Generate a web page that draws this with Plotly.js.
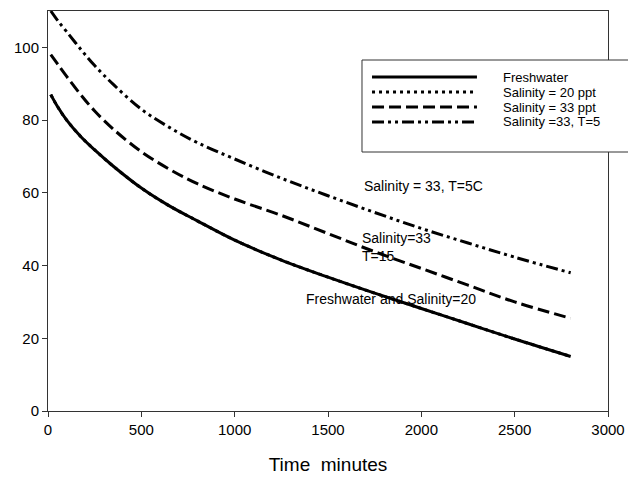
<!DOCTYPE html>
<html>
<head>
<meta charset="utf-8">
<script src="https://cdn.plot.ly/plotly-3.0.1.min.js"></script>
<style>html,body{margin:0;padding:0;background:#fff;}#chart{width:628px;height:479px;}</style>
</head>
<body>
<div id="chart"></div>
<script>
// Time (minutes)
const time = [15, 50, 100, 175, 250, 350, 500, 650, 800, 1000, 1250, 1500, 1750, 2000, 2250, 2500, 2800];
// Series values
const freshwater   = [87, 83.8, 80, 75.5, 71.8, 67.3, 61.3, 56.4, 52.3, 47, 41.5, 36.8, 32.4, 28.2, 24.0, 19.8, 15];
const salinity20   = [87, 83.8, 80, 75.5, 71.8, 67.3, 61.3, 56.4, 52.3, 47, 41.5, 36.8, 32.4, 28.2, 24.0, 19.8, 15];
const salinity33   = [98, 95.5, 92, 87, 82.5, 77.5, 71.3, 66.5, 62.5, 58.3, 53.8, 48.8, 43.8, 39.2, 34.6, 30, 25.5];
const salinity33T5 = [110, 107.5, 104.3, 99.5, 95, 89.8, 83, 78, 73.8, 69.3, 64, 59.2, 54.6, 50.2, 46.2, 42.3, 38];
const seriesNames = ["Freshwater", "Salinity = 20 ppt", "Salinity = 33 ppt", "Salinity =33, T=5"];
const xTicks = [0, 500, 1000, 1500, 2000, 2500, 3000];
const yTicks = [0, 20, 40, 60, 80, 100];

const dashes = ["solid", "3px,4px", "12px,5px", "12px,4px,3px,4px,3px,4px"];
const font = {family: "Liberation Sans, Arial, sans-serif", color: "#000"};

const traces = [
  {x: time, y: salinity20, name: seriesNames[1], dash: dashes[1]},
  {x: time, y: freshwater, name: seriesNames[0], dash: dashes[0]},
  {x: time, y: salinity33, name: seriesNames[2], dash: dashes[2]},
  {x: time, y: salinity33T5, name: seriesNames[3], dash: dashes[3]}
].map(t => ({
  x: t.x, y: t.y, name: t.name, type: "scatter", mode: "lines",
  line: {color: "#000", width: 3, dash: t.dash, shape: "spline", smoothing: 1.0},
  showlegend: false
}));

// Manual legend (box, samples, labels)
const rowsY = [0.835, 0.7975, 0.76, 0.7225];
const shapes = [{
  type: "rect", xref: "paper", yref: "paper",
  x0: 0.5607, x1: 1.06, y0: 0.6475, y1: 0.8775,
  line: {color: "#333", width: 1}, fillcolor: "#fff", layer: "above"
}];
const annotations = [];
seriesNames.forEach((n, i) => {
  shapes.push({type: "line", xref: "paper", yref: "paper",
    x0: 0.5786, x1: 0.766, y0: rowsY[i], y1: rowsY[i],
    line: {color: "#000", width: 3, dash: dashes[i]}, layer: "above"});
  annotations.push({xref: "paper", yref: "paper", x: 0.8107, y: rowsY[i],
    xanchor: "left", yanchor: "middle", text: n, showarrow: false, borderpad: 0,
    font: Object.assign({size: 13}, font)});
});
annotations.push(
  {x: 1680, y: 62, xref: "x", yref: "y", xanchor: "left", yanchor: "middle", text: "Salinity = 33, T=5C", showarrow: false, font: Object.assign({size: 14}, font)},
  {x: 1670, y: 45, xref: "x", yref: "y", xanchor: "left", yanchor: "middle", align: "left", text: "Salinity=33<br>T=15", showarrow: false, font: Object.assign({size: 14}, font)},
  {x: 1370, y: 30.8, xref: "x", yref: "y", xanchor: "left", yanchor: "middle", text: "Freshwater and Salinity=20", showarrow: false, font: Object.assign({size: 14}, font)}
);

const layout = {
  width: 628, height: 479,
  margin: {l: 48, r: 20, t: 11, b: 68},
  paper_bgcolor: "#fff", plot_bgcolor: "#fff",
  font: Object.assign({size: 15}, font),
  xaxis: {
    range: [0, 3000], tickvals: xTicks, ticks: "outside", ticklen: 5, tickcolor: "#333",
    showline: true, linecolor: "#333", linewidth: 1, mirror: true, showgrid: false, zeroline: false,
    tickfont: Object.assign({size: 15}, font),
    title: {text: "Time  minutes", font: Object.assign({size: 19}, font), standoff: 20}
  },
  yaxis: {
    range: [0, 110], tickvals: yTicks, ticks: "outside", ticklen: 5, tickcolor: "#333",
    showline: true, linecolor: "#333", linewidth: 1, mirror: true, showgrid: false, zeroline: false,
    tickfont: Object.assign({size: 15}, font)
  },
  shapes: shapes,
  annotations: annotations,
  showlegend: false
};

Plotly.newPlot("chart", traces, layout, {displayModeBar: false, staticPlot: true});
</script>
</body>
</html>
